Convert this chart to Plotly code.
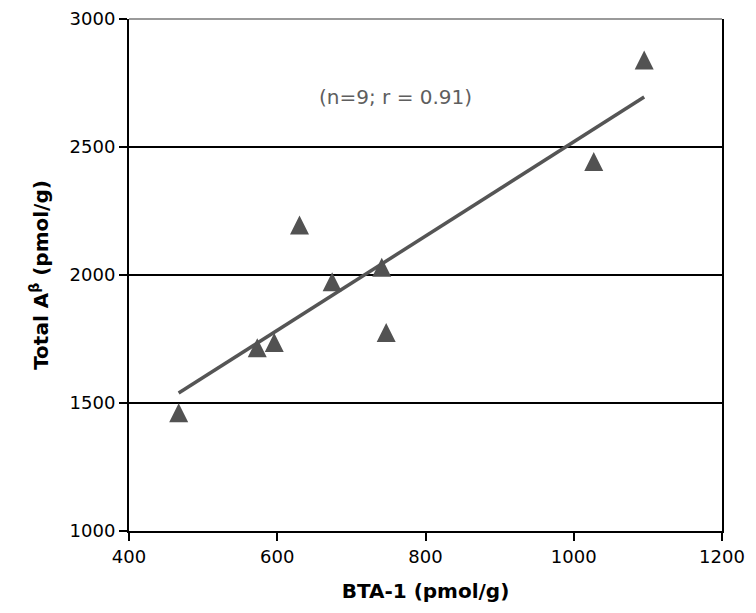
import numpy as np
import plotly.graph_objects as go

# Data
bta1 = [467, 573, 596, 630, 674, 741, 747, 1027, 1095]          # BTA-1 (pmol/g)
total_ab = [1462, 1716, 1736, 2195, 1974, 2030, 1775, 2443, 2840]  # Total Abeta (pmol/g)
x_ticks = [400, 600, 800, 1000, 1200]
y_ticks = [1000, 1500, 2000, 2500, 3000]
note_text = "(n=9; r = 0.91)"

W, H = 756, 613
ML, MR, MT, MB = 129, 34, 19, 82
plot_h = H - MT - MB
y_lo, y_hi = 1000, 3000
x_lo, x_hi = 400, 1200

# linear fit (trend line) computed from the data
slope, intercept = np.polyfit(bta1, total_ab, 1)
fit_x = [min(bta1), max(bta1)]
fit_y = [slope * v + intercept for v in fit_x]

# arrow-up markers are anchored at their apex; shift an overlay axis so the
# triangle's middle sits on the data value
marker_size = 19
shift_units = (marker_size / 2) * (y_hi - y_lo) / plot_h

dark = "#525252"
font_family = "DejaVu Sans, Arial, sans-serif"

fig = go.Figure()
fig.add_trace(go.Scatter(
    x=fit_x, y=fit_y, mode="lines",
    line=dict(color="#555555", width=3.5),
    hoverinfo="skip", showlegend=False,
))
fig.add_trace(go.Scatter(
    x=bta1, y=total_ab, mode="markers", yaxis="y2",
    marker=dict(symbol="arrow-up", size=marker_size, color=dark,
                line=dict(width=0)),
    showlegend=False,
))

fig.update_layout(
    width=W, height=H,
    margin=dict(l=ML, r=MR, t=MT, b=MB, autoexpand=False),
    paper_bgcolor="white", plot_bgcolor="white",
    font=dict(family=font_family, color="black", size=18),
    xaxis=dict(
        range=[x_lo, x_hi], tickvals=x_ticks, ticktext=[str(v) for v in x_ticks],
        showgrid=False, zeroline=False, automargin=False,
        showline=True, linecolor="black", linewidth=2,
        ticks="outside", ticklen=8, tickwidth=2, tickcolor="black",
        tickfont=dict(size=18),
        title=dict(text="<b>BTA-1 (pmol/g)</b>", font=dict(size=20), standoff=18),
    ),
    yaxis=dict(
        range=[y_lo, y_hi], tickvals=y_ticks, ticktext=[str(v) for v in y_ticks],
        showgrid=True, gridcolor="black", gridwidth=2, zeroline=False, automargin=False,
        showline=True, linecolor="black", linewidth=2, mirror=True,
        ticks="outside", ticklen=8, tickwidth=2, tickcolor="black",
        tickfont=dict(size=18),
        title=dict(text="<b>Total A<sup>β</sup> (pmol/g)</b>", font=dict(size=20), standoff=16),
    ),
    yaxis2=dict(
        overlaying="y", range=[y_lo - shift_units, y_hi - shift_units],
        visible=False, showgrid=False, zeroline=False,
    ),
    shapes=[dict(type="line", xref="paper", yref="paper", x0=0, x1=1, y0=1, y1=1,
                 line=dict(color="#9a9a9a", width=2), layer="above")],
    annotations=[dict(
        text=note_text, x=759, y=2695, xref="x", yref="y", showarrow=False,
        font=dict(size=20, color="#5e5e5e"),
    )],
)

fig.write_html("out.html", config={"displayModeBar": False},
               post_script="document.body.style.margin='0';")
